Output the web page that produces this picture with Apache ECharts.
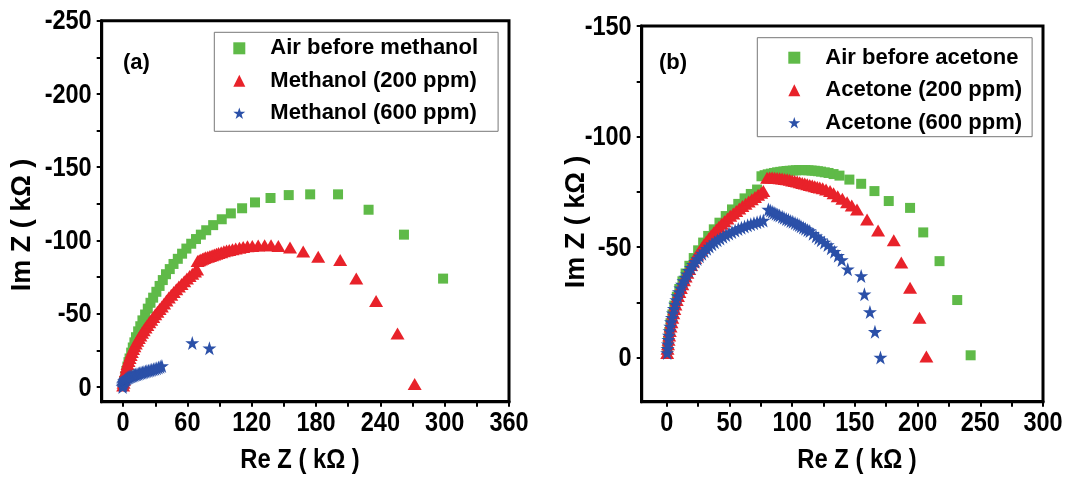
<!doctype html>
<html lang="en">
<head>
    <meta charset="UTF-8">
    <title>Nyquist plots - methanol / acetone</title>
    <script src="https://cdn.jsdelivr.net/npm/echarts@6/dist/echarts.min.js"></script>
    <style>
        html, body { margin: 0; padding: 0; background: #fff; }
        #chart { width: 1065px; height: 479px; }
    </style>
</head>
<body>
<div id="chart"></div>
<script type="text/javascript">
/* 1. data (Re Z, Im Z in kOhm) */
/* (a) methanol */
let airBeforeMethanol = [
    [0.5,-2],[1,-4],[2,-7.5],[3,-11],[4,-14],[5,-17],[6,-19.5],[7.5,-23.5],[9,-27],[10.5,-30.5],
    [12,-34],[14,-38],[16,-41.5],[18,-45.5],[20.5,-49.5],[23,-53.5],[25.5,-57.5],[28,-61],[31,-65],
    [34,-69],[37,-73],[40,-77],[43.5,-80.5],[47,-84],[51,-87.5],[55,-91],[59,-94.5],[63.5,-97.8],
    [68,-101],[72.5,-104],[77.5,-107],[84,-110.5],[92,-114.5],[100.5,-118.5],[111,-122],[123,-126],
    [137.5,-129],[154.5,-131],[174.5,-131.5],[200.5,-131.5],[229,-121],[262,-104],[298.5,-74]
];
let methanol200 = [
    [0,-1],[0.4,-3],[0.8,-5],[1.3,-7],[1.9,-9],[2.6,-11],[3.3,-13.5],[4.1,-15.7],[5,-17.8],[6,-19.9],
    [7,-21.9],[8.1,-23.9],[9.3,-25.9],[10.5,-27.8],[11.8,-29.7],[13.2,-31.6],[14.6,-33.4],[16.1,-35.2],
    [17.6,-37],[19.2,-38.8],[20.9,-40.6],[22.6,-42.4],[24.4,-44.2],[26.2,-46],[28.1,-47.8],[30,-49.6],
    [32,-51.4],[34,-53.2],[36.1,-55],[38.2,-57],[40.4,-59.1],[42.6,-61.1],[44.9,-63],[47.2,-64.8],
    [49.6,-66.8],[52,-68.6],[54.5,-70.4],[57,-72.2],[59.5,-74],[62,-75.7],[64.5,-77.3],[67,-78.9],
    [69,-80.2],
    [69.5,-86],[71,-86.5],[72.5,-87],[74,-87.5],[75.5,-88],[77,-88.5],[79,-89],[81,-89.5],[83,-90],
    [85,-90.5],[87,-91],[89,-91.5],[91.5,-92],[94,-92.6],[96.5,-93.1],[99,-93.6],[102,-94.1],
    [105,-94.6],[108.5,-95.1],[112,-95.6],[116,-96],[120.5,-96.3],[126,-96.6],[132,-96.8],[138,-96.7],
    [144.8,-96.3],[155.7,-95.3],[168,-92.5],[182,-89],[202.5,-86.7],[217.5,-74],[236,-58.7],
    [256,-36.6],[272,-2]
];
let methanol600 = [
    [-0.5,0],[-0.3,-1],[0,-2],[0.4,-3],[0.8,-3.7],[1.3,-4.3],[1.9,-4.9],[2.6,-5.4],[3.4,-5.9],
    [4.3,-6.3],[5.2,-6.7],[6.2,-7],[7.2,-7.3],[8.3,-7.6],[9.4,-7.9],[10.5,-8.2],[11.7,-8.5],
    [12.9,-8.8],[14.1,-9.1],[15.4,-9.4],[16.7,-9.7],[18,-10],[19.4,-10.3],[20.8,-10.6],[22.2,-10.9],
    [23.7,-11.2],[25.2,-11.5],[26.7,-11.8],[28.2,-12.1],[29.8,-12.5],[31.4,-12.9],[33,-13.3],
    [34.6,-13.8],[36.2,-14.4],[64.5,-30],[80.5,-26.5]
];

/* (b) acetone */
let airBeforeAcetone = [
    [0.5,-3.5],[1,-7.5],[2,-11.5],[3,-15.5],[4.5,-19.5],[6,-23.5],[8,-27.5],[10,-31],[12.5,-34.5],
    [15,-38],[18,-41.5],[21.5,-45],[25,-48.5],[29,-52],[33,-55],[37.5,-58],[42,-61],[47,-64],
    [52,-67],[57,-69.5],[62,-72],[67,-74],[72,-76],
    [75.5,-82],[78,-82.5],[80.5,-82.9],[83,-83.2],[85.5,-83.5],[88,-83.8],[90.5,-84],[93,-84.2],
    [95.5,-84.4],[98,-84.5],[100.5,-84.6],[103,-84.7],[105.5,-84.8],[108,-84.8],[110.5,-84.8],
    [113,-84.7],[115.5,-84.6],[118,-84.5],[120.5,-84.3],[123,-84.1],[126,-83.8],[129,-83.5],
    [133,-83],[137.7,-82.3],[145.6,-80.5],[155,-78.6],[165.6,-75.3],[177,-70.8],[194,-67.7],
    [204.5,-56.6],[217.5,-43.6],[231.6,-26],[242.3,-1]
];
let acetone200 = [
    [0.3,-2],[0.6,-4],[1,-6],[1.4,-8],[1.9,-10],[2.4,-12],[3,-14],[3.7,-16],[4.4,-18],[5.2,-20],
    [6,-22],[6.9,-24],[7.9,-26],[8.9,-27.8],[10,-29.6],[11.2,-31.4],[12.4,-33.2],[13.7,-35],[15,-36.7],
    [16.4,-38.4],[17.9,-40.1],[19.4,-41.8],[21,-43.4],[22.6,-45],[24.3,-46.6],[26,-48.1],[27.8,-49.6],
    [29.6,-51.1],[31.5,-52.5],[33.4,-53.9],[35.4,-55.3],[37.4,-56.6],[39.5,-57.9],[41.6,-59.2],
    [43.8,-60.5],[46,-61.7],[48.3,-62.9],[50.6,-64.1],[53,-65.2],[55.4,-66.3],[57.8,-67.4],
    [60.3,-68.5],[62.8,-69.6],[65.3,-70.6],[67.8,-71.6],[70.3,-72.6],[72.8,-73.6],[75.3,-74.6],
    [77,-75.3],
    [80,-81.3],[82,-81.4],[84,-81.4],[86,-81.3],[88,-81.2],[90,-81.1],[92,-81],[94,-80.8],[96,-80.6],
    [98,-80.4],[100,-80.1],[102,-79.9],[104,-79.6],[106,-79.3],[108,-79],[110,-78.7],[112,-78.4],
    [114,-78.1],[116,-77.8],[118,-77.5],[120,-77.2],[122,-76.9],[124.3,-76.6],[127,-76],[130.2,-75.3],
    [133,-74.3],[136.3,-73],[140,-71.8],[143.8,-70.3],[147.5,-68.8],[151.7,-67],[159.7,-62.5],
    [168.5,-57.5],[181,-53],[187,-43],[194,-31.6],[201.5,-18],[207,-0.5]
];
let acetone600 = [
    [0.3,-2],[0.6,-4],[0.9,-6],[1.3,-8],[1.7,-10],[2.2,-12],[2.8,-14],[3.4,-16],[4.1,-18],[4.9,-20],
    [5.7,-22],[6.6,-24],[7.6,-26],[8.6,-27.8],[9.7,-29.6],[10.9,-31.3],[12.1,-33],[13.4,-34.6],
    [14.8,-36.2],[16.2,-37.7],[17.7,-39.2],[19.3,-40.6],[20.9,-42],[22.6,-43.3],[24.4,-44.6],
    [26.2,-45.8],[28.1,-47],[30,-48.1],[32,-49.2],[34,-50.2],[36.1,-51.2],[38.2,-52.1],[40.4,-53],
    [42.6,-53.8],[44.9,-54.6],[47.2,-55.4],[49.6,-56.1],[52,-56.8],[54.5,-57.5],[57,-58.1],
    [59.5,-58.7],[62,-59.3],[64.5,-59.8],[67,-60.3],[69.5,-60.8],[72,-61.2],[74.5,-61.6],[77,-62],
    [81,-67],[82.5,-66.5],[84,-66],[85.5,-65.5],[87,-65],[88.5,-64.6],[90,-64.2],[92,-63.7],
    [93.5,-63.2],[95.3,-62.7],[97,-62.3],[98.8,-61.8],[100.5,-61.4],[102.3,-60.9],[104,-60.4],
    [105.5,-59.9],[107,-59.4],[108.8,-58.8],[110.5,-58.3],[112.3,-57.7],[114,-57.2],[116.5,-56],
    [119,-54.9],[121,-54],[123,-53.1],[125.6,-52],[128.3,-50.9],[131,-49.4],[133.6,-47.9],
    [136.5,-46],[139.5,-44.1],[144.3,-39.9],[155,-36.9],[157.6,-28.6],[162,-20.6],[166,-11.6],
    [170.4,0]
];

/* tick values */
let ticksReA = [0, 30, 60, 90, 120, 150, 180, 210, 240, 270, 300, 330, 360];
let labelsReA = [0, 60, 120, 180, 240, 300, 360];
let ticksImA = [-250, -225, -200, -175, -150, -125, -100, -75, -50, -25, 0];
let labelsImA = [-250, -200, -150, -100, -50, 0];
let ticksReB = [0, 25, 50, 75, 100, 125, 150, 175, 200, 225, 250, 275, 300];
let labelsReB = [0, 50, 100, 150, 200, 250, 300];
let ticksImB = [-150, -125, -100, -75, -50, -25, 0];
let labelsImB = [-150, -100, -50, 0];

let namesA = ['Air before methanol', 'Methanol (200 ppm)', 'Methanol (600 ppm)'];
let namesB = ['Air before acetone', 'Acetone (200 ppm)', 'Acetone (600 ppm)'];

/* 2. style */
const GREEN = '#5fba48';
const RED = '#e8222a';
const BLUE = '#2b50a8';
const STAR = 'path://M12,0 L14.8,8.6 L24,8.6 L16.6,14 L19.4,23 L12,17.6 L4.6,23 L7.4,14 L0,8.6 L9.2,8.6 Z';
const FONT = '"Liberation Sans", Arial, sans-serif';
const TICK_FONT = 'bold 28px ' + FONT;
const TICK_SCALE = 0.84;

function valueAxis(grid, min, max, ticks, inverse) {
    return {
        type: 'value',
        gridIndex: grid,
        min: min,
        max: max,
        inverse: inverse,
        splitLine: { show: false },
        axisLine: { show: true, onZero: false, lineStyle: { color: '#000', width: 3 } },
        axisTick: { show: true, inside: false, length: 5, customValues: ticks, lineStyle: { color: '#000', width: 2 } },
        minorTick: { show: false },
        axisLabel: { show: false }   // labels drawn below (condensed text)
    };
}

function scatter(name, data, xi, symbol, size, color) {
    return {
        name: name,
        type: 'scatter',
        xAxisIndex: xi,
        yAxisIndex: xi,
        data: data,
        symbol: symbol,
        symbolSize: size,
        itemStyle: { color: color, opacity: 1 },
        emphasis: { disabled: true },
        animation: false
    };
}

function legendBox(names, left, top, padding) {
    return {
        data: names,
        orient: 'vertical',
        left: left,
        top: top,
        padding: padding,
        itemGap: 10.5,
        itemWidth: 12,
        itemHeight: 12,
        borderColor: '#777',
        borderWidth: 1,
        selectedMode: false,
        formatter: function (n) { return '{t|' + n + '}'; },
        textStyle: {
            rich: {
                t: { fontFamily: FONT, fontWeight: 'bold', fontSize: 22, color: '#000', padding: [0, 0, 0, 20] }
            }
        }
    };
}

/* 3. chart */
let chart = echarts.init(document.getElementById('chart'), null, { renderer: 'canvas' });

let option = {
    backgroundColor: '#fff',
    animation: false,
    grid: [
        { left: 101.7, top: 20.7, width: 407.3, height: 381, show: true, borderColor: '#000', borderWidth: 3, backgroundColor: 'transparent' },
        { left: 641.7, top: 26, width: 401.3, height: 375.7, show: true, borderColor: '#000', borderWidth: 3, backgroundColor: 'transparent' }
    ],
    xAxis: [
        valueAxis(0, -20, 360, ticksReA, false),
        valueAxis(1, -20, 300, ticksReB, false)
    ],
    yAxis: [
        valueAxis(0, -250, 10, ticksImA, true),
        valueAxis(1, -150, 20, ticksImB, true)
    ],
    legend: [
        legendBox(namesA, 214.3, 32.3, [5, 20, 7, 19]),
        legendBox(namesB, 757.3, 37.7, [9, 10, 3, 31])
    ],
    series: [
        scatter(namesA[0], airBeforeMethanol, 0, 'rect', 10, GREEN),
        scatter(namesA[1], methanol200, 0, 'triangle', [14, 12], RED),
        scatter(namesA[2], methanol600, 0, STAR, 14, BLUE),
        scatter(namesB[0], airBeforeAcetone, 1, 'rect', 10, GREEN),
        scatter(namesB[1], acetone200, 1, 'triangle', [14, 12], RED),
        scatter(namesB[2], acetone600, 1, STAR, 14, BLUE)
    ]
};
chart.setOption(option);

/* 4. tick labels + titles (placed with the axes' own pixel conversion) */
let texts = [];

function tickLabels(gi, xMin, yMax, xLabels, yLabels) {
    let left = chart.convertToPixel({ xAxisIndex: gi }, xMin);
    let bottom = chart.convertToPixel({ yAxisIndex: gi }, yMax);
    xLabels.forEach(function (v) {
        texts.push({
            type: 'text', x: chart.convertToPixel({ xAxisIndex: gi }, v), y: bottom + 8, scaleX: TICK_SCALE,
            style: { text: String(v), font: TICK_FONT, fill: '#000', align: 'center', verticalAlign: 'top' }
        });
    });
    yLabels.forEach(function (v) {
        texts.push({
            type: 'text', x: left - 10, y: chart.convertToPixel({ yAxisIndex: gi }, v) + 1, scaleX: TICK_SCALE,
            style: { text: String(v), font: TICK_FONT, fill: '#000', align: 'right', verticalAlign: 'middle' }
        });
    });
}
tickLabels(0, -20, 10, labelsReA, labelsImA);
tickLabels(1, -20, 20, labelsReB, labelsImB);

function title(text, x, y, vertical) {
    texts.push({
        type: 'text', x: x, y: y,
        rotation: vertical ? Math.PI / 2 : 0,
        scaleX: vertical ? 1 : 0.88,
        style: { text: text, font: 'bold 27px ' + FONT, fill: '#000', align: 'center', verticalAlign: 'middle' }
    });
}
title('Im Z ( kΩ )', 23, 225, true);
title('Im Z ( kΩ )', 577, 222, true);
title('Re Z ( kΩ )', 300, 461, false);
title('Re Z ( kΩ )', 857, 461, false);

texts.push({ type: 'text', x: 123, y: 52, style: { text: '(a)', font: 'bold 22px ' + FONT, fill: '#000' } });
texts.push({ type: 'text', x: 659, y: 52, style: { text: '(b)', font: 'bold 22px ' + FONT, fill: '#000' } });

chart.setOption({ graphic: texts });

window.addEventListener('resize', chart.resize);
</script>
</body>
</html>
